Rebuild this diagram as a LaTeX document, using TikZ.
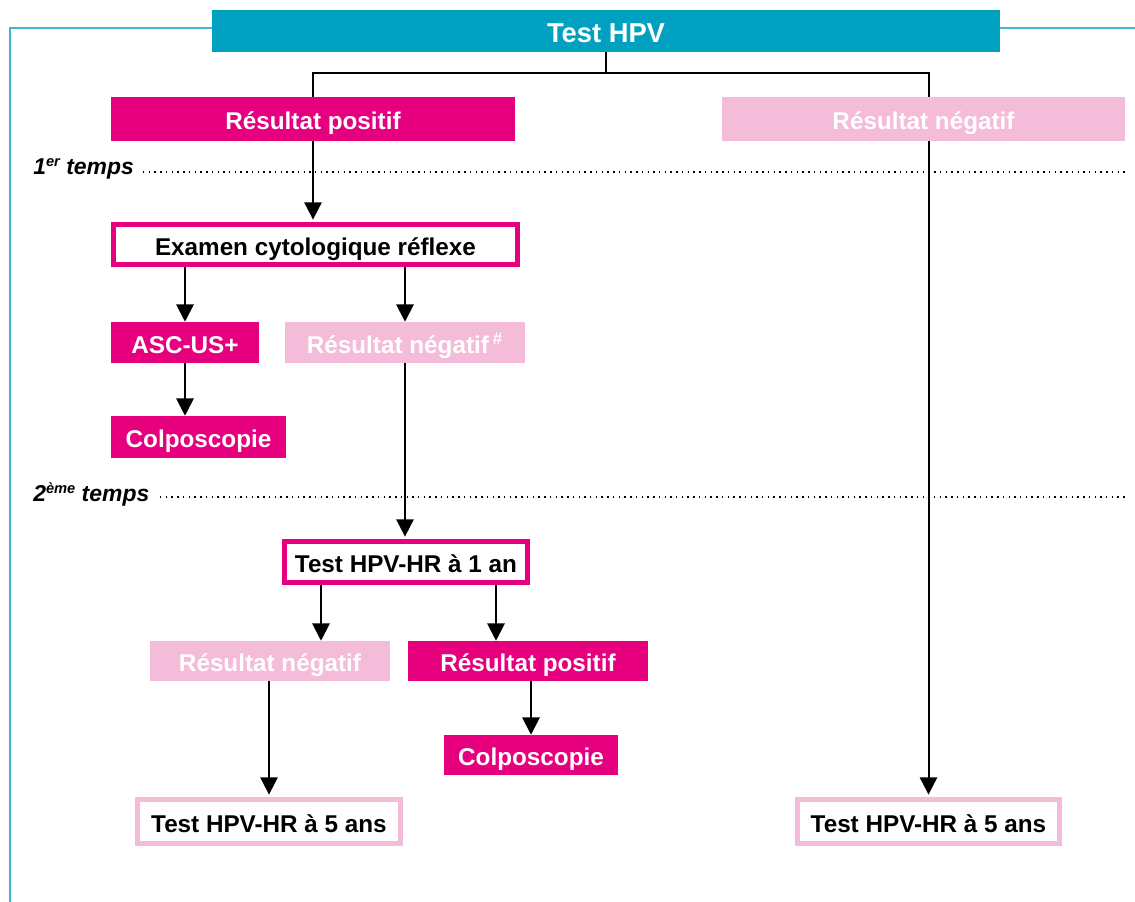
\documentclass[tikz,border=0pt]{standalone}
\usepackage{fontspec}
\setmainfont{Liberation Sans}
\usetikzlibrary{arrows.meta}
\definecolor{mag}{RGB}{230,0,126}
\definecolor{pnk}{RGB}{244,188,216}
\definecolor{tealbox}{RGB}{0,160,192}
\definecolor{frm}{RGB}{60,182,210}
\begin{document}
\begin{tikzpicture}[x=0.75pt,y=-0.75pt,
  sz/.style 2 args={minimum width=#1*0.75pt, minimum height=#2*0.75pt},
  base/.style={rectangle, inner sep=0pt, text height=16pt, text depth=0pt, font=\fontsize{18.2}{22}\selectfont\bfseries},
  magbox/.style={base, fill=mag, text=white},
  pnkbox/.style={base, fill=pnk, text=white},
  magframe/.style={base, draw=mag, line width=3.75pt, fill=white, text=black},
  pnkframe/.style={base, draw=pnk, line width=3.75pt, fill=white, text=black},
  arr/.style={line width=1.5pt, -{Triangle[length=13pt,width=13pt]}},
  arrf/.style={arr, shorten >=1.8pt},
  conn/.style={line width=1.5pt},
  dots/.style={line width=1.1pt, dash pattern=on 1.1pt off 3.2pt},
  lab/.style={font=\fontsize{17.2}{21}\selectfont\bfseries\itshape, anchor=base west, inner sep=0pt}
]
\useasboundingbox (0,0) rectangle (1135,902);
% frame
\draw[frm, line width=2pt] (10,902) -- (10,28) -- (1135,28);
% nodes
\node[base, fill=tealbox, text=white, sz={788}{42}, text height=17.5pt, font=\fontsize{20.5}{24}\selectfont\bfseries] (hpv) at (606,31) {Test HPV};
\node[magbox, sz={404}{44}] (posA) at (313,119) {Résultat positif};
\node[pnkbox, sz={403}{44}] (negA) at (923.5,119) {Résultat négatif};
\node[magframe, sz={404}{40}] (exam) at (315.5,244.5) {Examen cytologique réflexe};
\node[magbox, sz={148}{41}] (asc) at (185,342.5) {ASC-US+};
\node[pnkbox, sz={240}{41}] (negB) at (405,342.5) {Résultat négatif\,\textsuperscript{\#}};
\node[magbox, sz={175}{42}] (colA) at (198.5,437) {Colposcopie};
\node[magframe, sz={243}{41}] (hr1) at (406,562) {Test HPV-HR à 1 an};
\node[pnkbox, sz={240}{40}] (negC) at (270,661) {Résultat négatif};
\node[magbox, sz={240}{40}] (posC) at (528,661) {Résultat positif};
\node[magbox, sz={174}{40}] (colB) at (531,755) {Colposcopie};
\node[pnkframe, sz={263}{44}] (hr5a) at (269,821.5) {Test HPV-HR à 5 ans};
\node[pnkframe, sz={262}{44}] (hr5b) at (928.5,821.5) {Test HPV-HR à 5 ans};
% time labels
\node[lab] (t1) at (33,175) {1{\fontsize{11}{12}\selectfont\raisebox{6pt}{er}} temps};
\node[lab] (t2) at (33,501) {2{\fontsize{11}{12}\selectfont\raisebox{6pt}{ème}} temps};
\coordinate (d1a) at (143,172);
\coordinate (d1b) at (1125,172);
\coordinate (d2a) at (160,497);
\coordinate (d2b) at (1125,497);
\draw[dots] (d1a) -- (d1b);
\draw[dots] (d2a) -- (d2b);
% connectors
\coordinate (j) at (606,73);
\draw[conn] (hpv.south) -- (j);
\draw[conn] (posA.north) |- (j) -| (negA.north -| hr5b.north);
\draw[arrf] (posA.south) -- (posA.south |- exam.north);
\draw[arr] (asc.north |- exam.south) -- (asc.north);
\draw[arr] (negB.north |- exam.south) -- (negB.north);
\draw[arr] (asc.south) -- (asc.south |- colA.north);
\draw[arrf] (negB.south) -- (negB.south |- hr1.north);
\coordinate (h1) at (321,600);
\coordinate (h2) at (496,600);
\draw[arr] (h1 |- hr1.south) -- (h1 |- negC.north);
\draw[arr] (h2 |- hr1.south) -- (h2 |- posC.north);
\draw[arr] (posC.south -| colB.north) -- (colB.north);
\draw[arrf] (negC.south -| hr5a.north) -- (hr5a.north);
\draw[arrf] (negA.south -| hr5b.north) -- (hr5b.north);
\end{tikzpicture}
\end{document}
